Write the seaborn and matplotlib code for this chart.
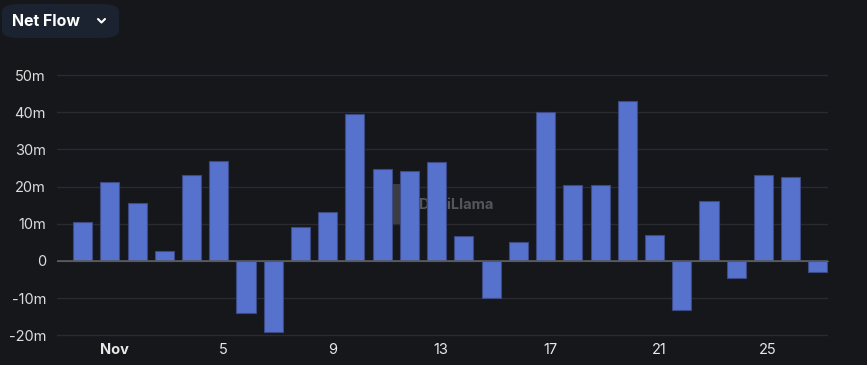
import matplotlib
matplotlib.use('Agg')
import matplotlib.pyplot as plt
from matplotlib.patches import FancyBboxPatch, Rectangle
from matplotlib.lines import Line2D
import pandas as pd
import seaborn as sns

sns.set_style('dark')
plt.rcParams['font.family'] = ['Inter', 'DejaVu Sans']

# daily net flow, in millions
days = list(range(1, 29))
net_flow = [10.5, 21.3, 15.7, 2.7, 23.0, 26.8, -14.0, -19.2, 9.0, 13.2,
            39.5, 24.6, 24.1, 26.5, 6.8, -10.0, 5.1, 40.0, 20.5, 20.5,
            43.0, 7.0, -13.2, 16.2, -4.6, 23.0, 22.5, -3.0]
tick_labels = ['Nov', '5', '9', '13', '17', '21', '25']
y_ticks = [-20, -10, 0, 10, 20, 30, 40, 50]

df = pd.DataFrame({'day': days, 'flow': net_flow})

bg = '#16171b'
bar_color = '#5672cd'

fig = plt.figure(figsize=(8.67, 3.65), dpi=100, facecolor=bg)
ax = fig.add_axes([57/867, 1 - 339/365, (828 - 57)/867, (339 - 71.3)/365])
ax.set_facecolor(bg)

sns.barplot(data=df, x='day', y='flow', ax=ax, color=bar_color,
            width=0.70, edgecolor='#3d4a85', linewidth=0.8, zorder=3,
            saturation=1)

ax.set_xlim(-0.94, 27.37)
ax.set_ylim(-21, 51)

# grid
ax.set_yticks(y_ticks)
ax.set_yticklabels([f'{v}m' if v != 0 else '0' for v in y_ticks])
ax.grid(False)
for v in y_ticks:
    if v != 0:
        ax.axhline(v, color='#2a2b30', lw=1, zorder=1)
ax.axhline(0, color='#5a5b60', lw=1.2, zorder=4)

# x axis: ticks sit on the zero line, labels at the bottom
for s in ax.spines.values():
    s.set_visible(False)
ax.spines['bottom'].set_visible(True)
ax.spines['bottom'].set_position(('data', 0))
ax.spines['bottom'].set_color('#5a5b60')
tick_pos = [1.17 + 4 * i for i in range(len(tick_labels))]
ax.set_xticks(tick_pos)
ax.set_xticklabels(tick_labels)
ax.tick_params(axis='x', length=4, width=1, color='#e8e8e8', pad=55,
               labelsize=10.5, labelcolor='#e8e8e8', direction='out')
ax.get_xticklabels()[0].set_fontweight('bold')
ax.tick_params(axis='y', length=0, pad=8, labelsize=10.5, labelcolor='#dcdcdc')
ax.set_xlabel('')
ax.set_ylabel('')

# watermark (logo block + name), behind the bars
ax.add_patch(Rectangle((0.435, 0.43), 0.033, 0.15, transform=ax.transAxes,
                       facecolor='#3c3d42', edgecolor='none', zorder=2))
ax.text(0.47, 0.50, 'DeFiLlama', transform=ax.transAxes, ha='left',
        va='center', fontsize=10.5, fontweight='bold', color='#55565b', zorder=2)

# header button
fig.patches.append(FancyBboxPatch((2/867, 1 - 38/365), 117/867, 34/365,
                                  boxstyle='round,pad=0,rounding_size=0.02',
                                  transform=fig.transFigure, facecolor='#1b2230',
                                  edgecolor='none'))
fig.text(12/867, 1 - 21/365, 'Net Flow', ha='left', va='center',
         fontsize=11.5, fontweight='bold', color='white')
fig.lines.append(Line2D([98/867, 101.5/867, 105/867],
                        [1 - 19/365, 1 - 22.5/365, 1 - 19/365],
                        transform=fig.transFigure, color='white', lw=1.5,
                        solid_capstyle='round', solid_joinstyle='round'))

fig.savefig('out.png', dpi=100, facecolor=bg)
